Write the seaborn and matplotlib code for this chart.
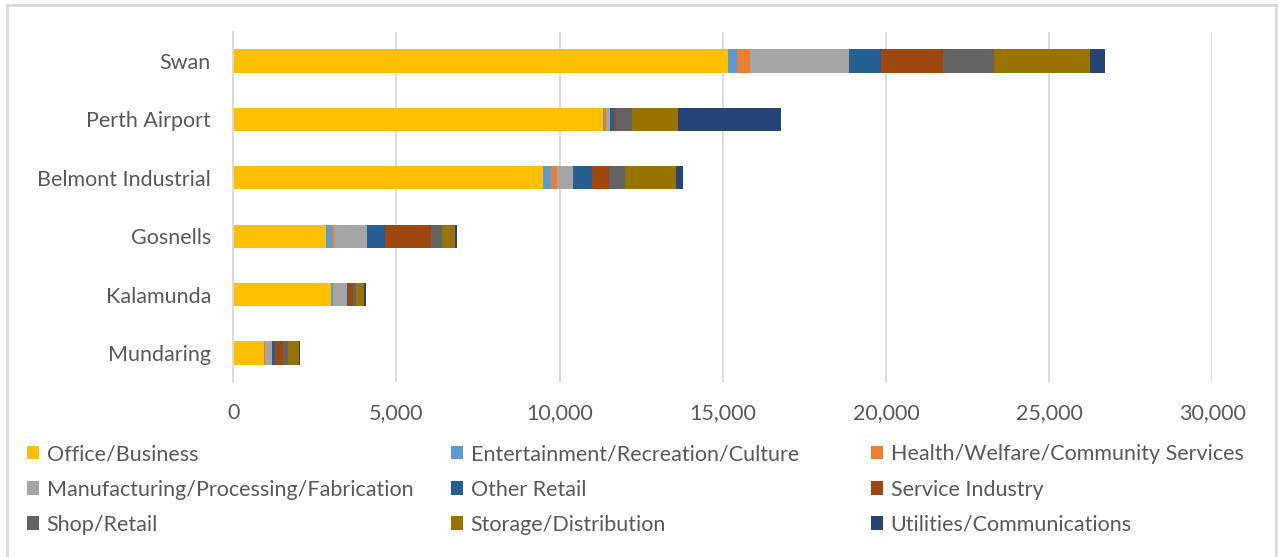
import matplotlib
matplotlib.use("Agg")
import matplotlib.pyplot as plt
from matplotlib.patches import Patch, Rectangle
from matplotlib.ticker import FuncFormatter, MultipleLocator
import numpy as np
import pandas as pd
import seaborn as sns

regions = ["Swan", "Perth Airport", "Belmont Industrial", "Gosnells", "Kalamunda", "Mundaring"]

land_uses = [
    "Office/Business",
    "Entertainment/Recreation/Culture",
    "Health/Welfare/Community Services",
    "Manufacturing/Processing/Fabrication",
    "Other Retail",
    "Service Industry",
    "Shop/Retail",
    "Storage/Distribution",
    "Utilities/Communications",
]

office_business = [15170, 11330, 9490, 2840, 3000, 940]
entertainment = [280, 30, 250, 190, 50, 20]
health_welfare = [390, 50, 170, 60, 20, 10]
manufacturing = [3030, 150, 500, 1020, 420, 220]
other_retail = [990, 120, 600, 550, 30, 100]
service_industry = [1900, 40, 500, 1400, 160, 245]
shop_retail = [1540, 510, 510, 350, 80, 160]
storage_distribution = [2950, 1390, 1560, 400, 250, 320]
utilities_comms = [460, 3170, 210, 50, 50, 40]

colors = ["#FFC000", "#5B9BD5", "#ED7D31", "#A5A5A5", "#255E91",
          "#9E480E", "#636363", "#997300", "#264478"]

series = [office_business, entertainment, health_welfare, manufacturing, other_retail,
          service_industry, shop_retail, storage_distribution, utilities_comms]

df = pd.DataFrame(dict(zip(land_uses, series)), index=regions)
cumulative = df.cumsum(axis=1)

sns.set_theme(style="white")
plt.rcParams["font.family"] = ["Lato", "DejaVu Sans"]
text_color = "#595959"
grid_color = "#D9D9D9"
font_size = 15.5

fig = plt.figure(figsize=(12.78, 5.57), dpi=100)
ax = fig.add_axes([233.1 / 1278, 1 - 382.2 / 557, (1212.3 - 233.1) / 1278, (382.2 - 31.8) / 557])

# stacked bars: draw running totals from the longest down so each segment shows through
for name, color in reversed(list(zip(land_uses, colors))):
    sns.barplot(x=cumulative[name].values, y=regions, color=color, width=0.394,
                linewidth=0, saturation=1, ax=ax, orient="h")

ax.set_xlim(0, 30000)
ax.xaxis.set_major_locator(MultipleLocator(5000))
ax.xaxis.set_major_formatter(FuncFormatter(lambda v, p: f"{int(v):,}"))
ax.grid(axis="x", color=grid_color, linewidth=1.3)
ax.set_axisbelow(True)
for side in ["top", "right", "bottom"]:
    ax.spines[side].set_visible(False)
ax.spines["left"].set_color(grid_color)
ax.spines["left"].set_linewidth(1.3)
ax.tick_params(axis="both", length=0, labelsize=font_size, labelcolor=text_color)
ax.tick_params(axis="x", pad=15)
ax.tick_params(axis="y", pad=16)
ax.set_xlabel("")
ax.set_ylabel("")

# legend laid out in three equally spaced columns
col_x = [27, 451, 871]
for j, x0 in enumerate(col_x):
    idx = [j, j + 3, j + 6]
    handles = [Patch(facecolor=colors[i], edgecolor="none", label=land_uses[i]) for i in idx]
    fig.legend(handles=handles, loc="upper left",
               bbox_to_anchor=(x0 / 1278, 1 - 444.5 / 557), frameon=False,
               fontsize=font_size, labelcolor=text_color, handlelength=0.56,
               handleheight=0.56, handletextpad=0.35, labelspacing=0.7,
               borderpad=0, borderaxespad=0)

fig.patches.append(Rectangle((7 / 1278, -0.01), 1269 / 1278, 1 - 5 / 557 + 0.01,
                             transform=fig.transFigure, fill=False,
                             edgecolor=grid_color, linewidth=2))

fig.savefig("out.png", dpi=100)
